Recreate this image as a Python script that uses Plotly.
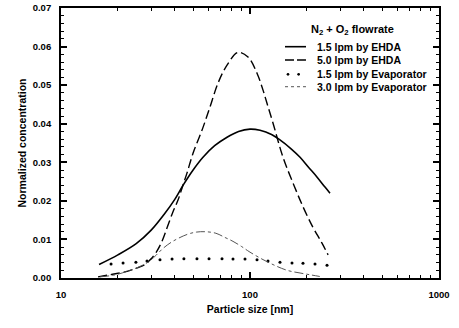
import plotly.graph_objects as go

# 1.5 lpm by EHDA (solid)
ehda15_x = [15.9, 20, 25, 30, 35, 40, 44.2, 50, 56.4, 65, 75.6, 87, 100, 113, 130, 144, 165, 184, 205, 226, 250, 265]
ehda15_y = [0.0035, 0.0060, 0.0089, 0.0124, 0.0164, 0.0204, 0.0240, 0.0280, 0.0313, 0.0343, 0.0365, 0.0380, 0.0386, 0.0383, 0.0372, 0.0358, 0.0335, 0.0313, 0.0286, 0.0262, 0.0235, 0.0220]

# 5.0 lpm by EHDA (dashed)
ehda50_x = [15.7, 18, 21.8, 25.3, 28, 30, 32, 34, 36.4, 39, 41.6, 44, 46.4, 50, 55.7, 61.4, 67.7, 75.6, 86.4, 97.6, 108.9, 117.2, 123, 132.3, 149.5, 169, 191, 215, 240, 259]
ehda50_y = [0.0003, 0.0008, 0.0016, 0.0026, 0.0036, 0.0050, 0.0068, 0.0092, 0.0130, 0.0170, 0.0202, 0.0238, 0.0272, 0.0324, 0.0383, 0.0443, 0.0505, 0.0552, 0.0585, 0.0573, 0.0531, 0.0487, 0.0453, 0.0402, 0.0313, 0.0246, 0.0184, 0.0132, 0.0091, 0.0060]

# 1.5 lpm by Evaporator (dots)
evap15_x = [18.4, 21.3, 24.9, 28.5, 33.4, 38.7, 44.7, 52.4, 60.7, 71.1, 81.3, 94.1, 108.9, 124.5, 144.1, 166.8, 190.7, 220.8, 255.6]
evap15_y = [0.0036, 0.0039, 0.0041, 0.0044, 0.0047, 0.0049, 0.0050, 0.0050, 0.0050, 0.0050, 0.0049, 0.0049, 0.0047, 0.0044, 0.0041, 0.0039, 0.0038, 0.0036, 0.0033]

# 3.0 lpm by Evaporator (dash-dot)
evap30_x = [16.1, 19.3, 23.2, 27, 29.6, 32, 34.7, 39, 46.5, 52, 58, 66, 73.8, 81.3, 90, 100, 124.5, 157, 184, 210, 234]
evap30_y = [0.0003, 0.0008, 0.0020, 0.0033, 0.0045, 0.0060, 0.0077, 0.0095, 0.0113, 0.0119, 0.0120, 0.0116, 0.0105, 0.0095, 0.0082, 0.0067, 0.0041, 0.0020, 0.0013, 0.0008, 0.0004]

series_names = ["1.5 lpm by EHDA", "5.0 lpm by EHDA", "1.5 lpm by Evaporator", "3.0 lpm by Evaporator"]
legend_title = "N<sub>2</sub> + O<sub>2</sub> flowrate"

y_ticks = [0.00, 0.01, 0.02, 0.03, 0.04, 0.05, 0.06, 0.07]
x_ticks = [10, 100, 1000]

FONT = "Liberation Sans, Arial, Helvetica, sans-serif"

fig = go.Figure()
fig.add_trace(go.Scatter(x=ehda15_x, y=ehda15_y, mode="lines", name=series_names[0],
                         line=dict(color="black", width=1.6, shape="spline")))
fig.add_trace(go.Scatter(x=ehda50_x, y=ehda50_y, mode="lines", name=series_names[1],
                         line=dict(color="black", width=1.4, dash="9px,4px", shape="spline")))
fig.add_trace(go.Scatter(x=evap15_x, y=evap15_y, mode="markers", name=series_names[2],
                         marker=dict(color="black", size=3)))
fig.add_trace(go.Scatter(x=evap30_x, y=evap30_y, mode="lines", name=series_names[3],
                         line=dict(color="#555555", width=1, dash="dashdot", shape="spline")))

# Custom legend (compact, as in the original figure)
leg_rows = [0.8567, 0.8074, 0.7544, 0.7085]
sx0, sx1, tx = 0.5926, 0.6481, 0.672
annotations = [dict(text=legend_title, xref="paper", yref="paper", x=0.770, y=0.9185,
                    xanchor="center", yanchor="middle", showarrow=False,
                    font=dict(size=11, family=FONT, weight="bold", color="black"))]
for name, yy in zip(series_names, leg_rows):
    annotations.append(dict(text=name, xref="paper", yref="paper", x=tx, y=yy,
                            xanchor="left", yanchor="middle", showarrow=False,
                            font=dict(size=10.5, family=FONT, weight="bold", color="black")))
shapes = [
    dict(type="line", xref="paper", yref="paper", x0=sx0, x1=sx1, y0=leg_rows[0], y1=leg_rows[0],
         line=dict(color="black", width=1.6)),
    dict(type="line", xref="paper", yref="paper", x0=sx0, x1=sx1, y0=leg_rows[1], y1=leg_rows[1],
         line=dict(color="black", width=1.4, dash="9px,3px")),
    dict(type="line", xref="paper", yref="paper", x0=sx0, x1=sx1, y0=leg_rows[3], y1=leg_rows[3],
         line=dict(color="#555555", width=1, dash="dot")),
]
for cx in (0.6005, 0.6286):
    shapes.append(dict(type="circle", xref="paper", yref="paper",
                       x0=cx - 0.0035, x1=cx + 0.0035, y0=leg_rows[2] - 0.005, y1=leg_rows[2] + 0.005,
                       fillcolor="black", line=dict(width=0)))

fig.update_layout(
    width=459, height=328,
    margin=dict(l=61, r=20, t=8, b=50),
    paper_bgcolor="white", plot_bgcolor="white",
    font=dict(family=FONT, size=9, color="black", weight="bold"),
    showlegend=False,
    annotations=annotations,
    shapes=shapes,
)
fig.update_xaxes(
    type="log", range=[1, 3], tickvals=x_ticks, ticktext=[str(v) for v in x_ticks],
    automargin=False,
    showgrid=False, zeroline=False,
    showline=True, linecolor="black", linewidth=1.8, mirror="ticks",
    ticks="inside", ticklen=6, tickwidth=1.5, tickcolor="black",
    minor=dict(ticks="inside", ticklen=3, tickwidth=1, tickcolor="black", dtick="D1", showgrid=False),
    title=dict(text="Particle size [nm]", font=dict(size=10.5, family=FONT, weight="bold"), standoff=6),
    tickfont=dict(size=9.5, family=FONT, weight="bold"),
    ticklabelstandoff=7,
)
fig.update_yaxes(
    range=[0, 0.07], tickvals=y_ticks, ticktext=[f"{v:.2f}" for v in y_ticks],
    automargin=False,
    showgrid=False, zeroline=False,
    showline=True, linecolor="black", linewidth=1.8, mirror="ticks",
    ticks="inside", ticklen=6, tickwidth=1.5, tickcolor="black",
    minor=dict(ticks="inside", ticklen=3, tickwidth=1, tickcolor="black", dtick=0.002, showgrid=False),
    title=dict(text="Normalized concentration", font=dict(size=10.5, family=FONT, weight="bold"), standoff=4),
    tickfont=dict(size=9.5, family=FONT, weight="bold"),
    ticklabelstandoff=6,
)

fig.write_html("out.html", config={"displayModeBar": False},
               post_script="document.body.style.margin='0';")
